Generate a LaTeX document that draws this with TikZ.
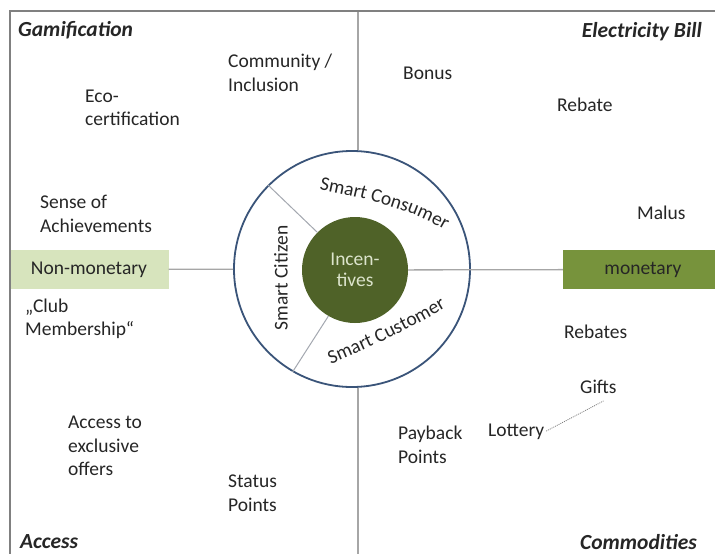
\documentclass[tikz,border=0pt]{standalone}
\usepackage{fontspec}
\setmainfont{Carlito}
\usetikzlibrary{decorations.text}
\definecolor{txtgray}{HTML}{262626}
\definecolor{palegreen}{HTML}{D7E4BD}
\definecolor{leafgreen}{HTML}{77933C}
\definecolor{olivegreen}{HTML}{4F6228}
\definecolor{ringblue}{HTML}{3A5479}
\definecolor{framegray}{HTML}{808080}
\definecolor{axisgray}{HTML}{A6A6A6}
\definecolor{dividergray}{HTML}{A4A8B0}
\definecolor{incentxt}{HTML}{DCE4CC}
\newcommand{\ringfont}{\fontsize{19.5}{23.5}\selectfont\color{txtgray}}

\begin{document}
\begin{tikzpicture}[x=1pt,y=-1pt,font=\fontsize{19.5}{23.5}\selectfont,text=txtgray,
  item/.style={anchor=west,align=left,inner sep=0pt},
  corner/.style={inner sep=0pt,font=\fontsize{21.5}{25}\selectfont\bfseries\itshape},
  kind/.style={minimum width=159pt,minimum height=39pt,inner sep=0pt},
  axis/.style={draw=axisgray,line width=1.3pt},
  divider/.style={draw=dividergray,line width=1pt},
  dotline/.style={draw=gray,line width=0.8pt,dash pattern=on 1pt off 1pt}]
\useasboundingbox[fill=white] (0,0) rectangle (715,554);
\begin{scope}[nodes={item}] % the loose incentives
\node (commun) at (228,73) {Community /\\Inclusion};
\node (ecocert) at (85,108) {Eco-\\certification};
\node (sense) at (40,214) {Sense of\\Achievements};
\node (club) at (25,319) {„Club\\Membership“};
\node (offers) at (68,446) {Access to\\exclusive\\offers};
\node (status) at (228,493) {Status\\Points};
\node (bonus) at (403,73) {Bonus};
\node (rebate) at (557,105) {Rebate};
\node (malus) at (637,213) {Malus};
\node (rebates) at (564,332) {Rebates};
\node (gifts) at (580,387) {Gifts};
\node (lottery) at (488,432) {Lottery};
\node (payback) at (398,445) {Payback\\Points};
\end{scope}
\node [corner,anchor=west] (gamif) at (18,30) {Gamification};
\node [corner,anchor=east] (elbill) at (702,32) {Electricity Bill};
\node [corner,anchor=west] (access) at (20,542) {Access};
\node [corner,anchor=east] (commod) at (697,542) {Commodities};
\node [kind,fill=palegreen] (nonmon) at (89,269.5) {Non-monetary};
\node [kind,fill=leafgreen,minimum width=160pt] (mon) at (643,269.5) {monetary};
\node [circle,draw=ringblue,line width=1.8pt,minimum size=236pt,inner sep=0pt] (ring) at (352,269) {};
\node [circle,fill=olivegreen,minimum size=106pt,inner sep=0pt,align=center,text=incentxt,
  font=\fontsize{19.5}{20.5}\selectfont] (incent) at (355,270) {Incen-\\tives};
\node [rotate=90] (citizen) at (281,278) {Smart Citizen};
\coordinate (vtop) at (358,11);
\coordinate (vbot) at (358,560);
\draw [axis] (vtop) -- (vtop |- ring.north);
\draw [axis] (ring.south -| vbot) -- (vbot);
\draw [axis] (nonmon) -- (ring);
\draw [axis] (incent) -- (mon);
\draw [divider] (incent.135) -- (ring.135);
\draw [divider] (incent.240) -- (ring.240);
\draw [dotline,shorten >=15pt,shorten <=2pt] (lottery.east) -- (gifts.south east);
\path [decorate,decoration={text along path,text align=center,text={|\ringfont|Smart Consumer}}]
  (303,186) .. controls (357,197) and (414,207) .. (459,239);
\path [decorate,decoration={text along path,text align=center,text={|\ringfont|Smart Customer}}]
  (316,370) .. controls (365,351) and (415,327) .. (460,299);
\draw [framegray,line width=1.5pt] (10,560) -- (10,11) -- (720,11);
\end{tikzpicture}
\end{document}
